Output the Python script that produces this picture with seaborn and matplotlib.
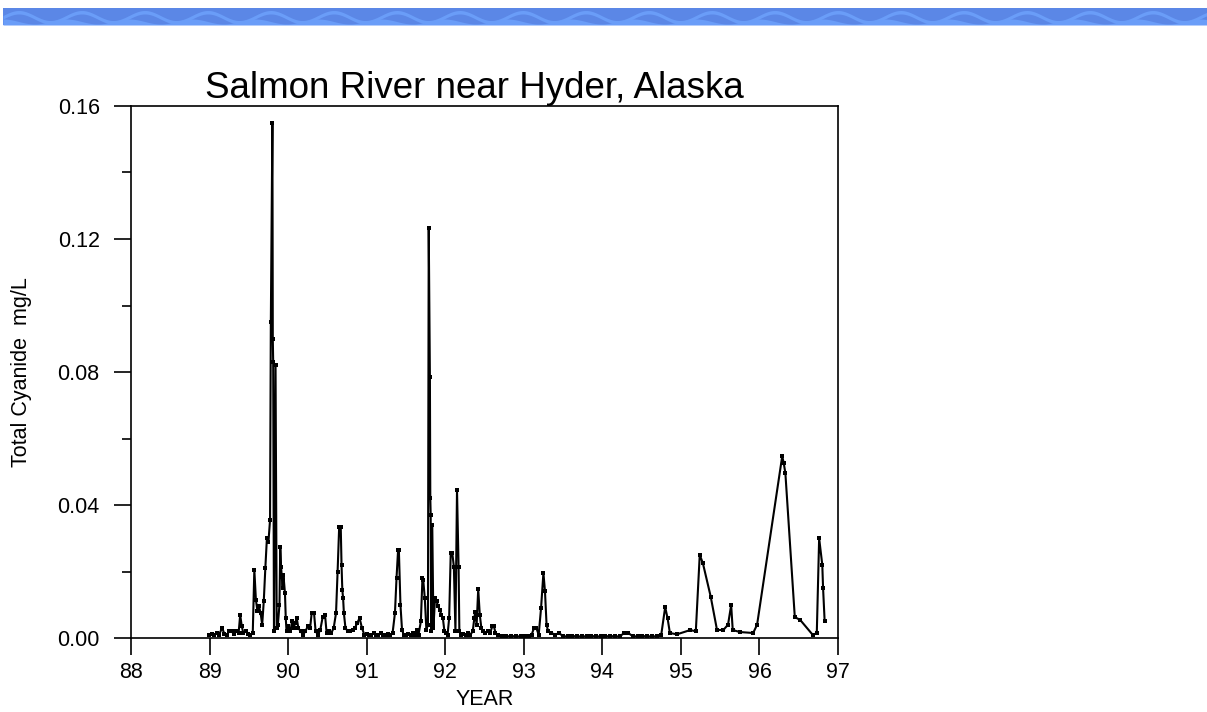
import numpy as np
import pandas as pd
import matplotlib
matplotlib.use("Agg")
import matplotlib.pyplot as plt
from matplotlib.patches import Rectangle
from matplotlib.ticker import MultipleLocator
import seaborn as sns

# Sampling dates (decimal year, 19xx) and total cyanide concentration (mg/L)
year = [
    88.99, 89.03, 89.06, 89.09, 89.12, 89.16, 89.19, 89.22, 89.25, 89.28,
    89.31, 89.34, 89.37, 89.39, 89.41, 89.43, 89.46, 89.49, 89.52, 89.55,
    89.57, 89.59, 89.61, 89.63, 89.65, 89.67, 89.69, 89.71, 89.73, 89.75,
    89.77, 89.78, 89.80, 89.805, 89.81, 89.82, 89.84, 89.855, 89.87, 89.89,
    89.90, 89.91, 89.93, 89.94, 89.96, 89.97, 89.98, 90.00, 90.03, 90.05,
    90.07, 90.09, 90.11, 90.13, 90.16, 90.19, 90.22, 90.25, 90.28, 90.30,
    90.33, 90.35, 90.38, 90.41, 90.44, 90.47, 90.49, 90.52, 90.55, 90.58,
    90.61, 90.63, 90.65, 90.67, 90.68, 90.69, 90.70, 90.71, 90.73, 90.76,
    90.79, 90.82, 90.85, 90.88, 90.91, 90.94, 90.97, 91.00, 91.03, 91.06,
    91.09, 91.12, 91.15, 91.18, 91.21, 91.24, 91.27, 91.30, 91.33, 91.36,
    91.38, 91.40, 91.41, 91.43, 91.45, 91.47, 91.50, 91.53, 91.56, 91.59,
    91.62, 91.64, 91.66, 91.69, 91.71, 91.72, 91.74, 91.76, 91.78, 91.79,
    91.805, 91.81, 91.815, 91.82, 91.835, 91.85, 91.87, 91.89, 91.91, 91.93,
    91.95, 91.97, 91.99, 92.01, 92.03, 92.05, 92.07, 92.09, 92.11, 92.13,
    92.15, 92.17, 92.18, 92.20, 92.23, 92.26, 92.29, 92.32, 92.35, 92.37,
    92.38, 92.40, 92.42, 92.44, 92.46, 92.48, 92.51, 92.54, 92.57, 92.60,
    92.62, 92.64, 92.67, 92.72, 92.78, 92.84, 92.90, 92.96, 93.02, 93.07,
    93.10, 93.13, 93.16, 93.19, 93.22, 93.25, 93.27, 93.29, 93.31, 93.35,
    93.40, 93.45, 93.50, 93.56, 93.62, 93.68, 93.74, 93.80, 93.86, 93.92,
    93.98, 94.04, 94.10, 94.16, 94.22, 94.28, 94.33, 94.39, 94.45, 94.51,
    94.57, 94.63, 94.69, 94.75, 94.80, 94.83, 94.86, 94.95, 95.12, 95.19,
    95.24, 95.28, 95.38, 95.46, 95.54, 95.60, 95.64, 95.66, 95.75, 95.92,
    95.97, 96.29, 96.31, 96.33, 96.45, 96.52, 96.68, 96.73, 96.76, 96.80,
    96.81, 96.83,
]
cyanide = [
    0.0010, 0.0012, 0.0008, 0.0015, 0.0010, 0.0030, 0.0012, 0.0010, 0.0020, 0.0020,
    0.0012, 0.0020, 0.0015, 0.0070, 0.0035, 0.0015, 0.0020, 0.0012, 0.0010, 0.0015,
    0.0205, 0.0115, 0.0080, 0.0095, 0.0075, 0.0040, 0.0110, 0.0210, 0.0300, 0.0290,
    0.0355, 0.0950, 0.1550, 0.0900, 0.0830, 0.0020, 0.0820, 0.0030, 0.0040, 0.0100,
    0.0275, 0.0215, 0.0150, 0.0190, 0.0135, 0.0060, 0.0020, 0.0035, 0.0020, 0.0050,
    0.0030, 0.0045, 0.0060, 0.0030, 0.0020, 0.0010, 0.0020, 0.0035, 0.0030, 0.0075,
    0.0075, 0.0020, 0.0010, 0.0025, 0.0063, 0.0070, 0.0015, 0.0020, 0.0015, 0.0030,
    0.0075, 0.0200, 0.0334, 0.0334, 0.0220, 0.0145, 0.0120, 0.0075, 0.0030, 0.0020,
    0.0020, 0.0025, 0.0030, 0.0045, 0.0060, 0.0030, 0.0010, 0.0012, 0.0010, 0.0010,
    0.0015, 0.0010, 0.0010, 0.0015, 0.0010, 0.0010, 0.0012, 0.0010, 0.0015, 0.0075,
    0.0180, 0.0265, 0.0265, 0.0100, 0.0025, 0.0010, 0.0010, 0.0012, 0.0010, 0.0015,
    0.0010, 0.0025, 0.0010, 0.0050, 0.0180, 0.0175, 0.0120, 0.0025, 0.0040, 0.1233,
    0.0785, 0.0420, 0.0370, 0.0020, 0.0340, 0.0030, 0.0120, 0.0110, 0.0095, 0.0085,
    0.0070, 0.0060, 0.0020, 0.0015, 0.0010, 0.0060, 0.0255, 0.0255, 0.0215, 0.0020,
    0.0445, 0.0215, 0.0020, 0.0010, 0.0012, 0.0010, 0.0015, 0.0010, 0.0020, 0.0060,
    0.0078, 0.0040, 0.0147, 0.0070, 0.0030, 0.0020, 0.0015, 0.0020, 0.0015, 0.0035,
    0.0035, 0.0015, 0.0008, 0.0005, 0.0005, 0.0006, 0.0005, 0.0005, 0.0006, 0.0005,
    0.0010, 0.0030, 0.0030, 0.0010, 0.0090, 0.0196, 0.0140, 0.0040, 0.0020, 0.0015,
    0.0010, 0.0015, 0.0005, 0.0005, 0.0006, 0.0005, 0.0005, 0.0005, 0.0006, 0.0005,
    0.0005, 0.0005, 0.0006, 0.0005, 0.0005, 0.0015, 0.0015, 0.0005, 0.0005, 0.0006,
    0.0005, 0.0005, 0.0005, 0.0010, 0.0093, 0.0060, 0.0015, 0.0011, 0.0024, 0.0020,
    0.0250, 0.0225, 0.0124, 0.0024, 0.0024, 0.0040, 0.0099, 0.0024, 0.0018, 0.0015,
    0.0040, 0.0547, 0.0525, 0.0496, 0.0063, 0.0054, 0.0009, 0.0015, 0.0300, 0.0220,
    0.0150, 0.0050,
]

x_ticks = [88, 89, 90, 91, 92, 93, 94, 95, 96, 97]
y_ticks = [0.00, 0.04, 0.08, 0.12, 0.16]
y_tick_labels = ["0.00", "0.04", "0.08", "0.12", "0.16"]

df = pd.DataFrame({"YEAR": year, "cyanide": cyanide})

sns.set_theme(style="ticks")
plt.rcParams["font.family"] = ["Liberation Sans", "DejaVu Sans"]

fig = plt.figure(figsize=(12.07, 7.12), dpi=100)
fig.patch.set_facecolor("white")

# Decorative banner across the top of the page
banner = fig.add_axes([3 / 1207, 1 - 25 / 712, 1 - 3 / 1207, 17 / 712])
banner.set_xlim(0, 1204)
banner.set_ylim(0, 17)
banner.axis("off")
banner.add_patch(Rectangle((0, 0), 1204, 17, color="#5b87e6", lw=0))
bx = np.linspace(0, 1204, 2400)
wave = 8.5 + 5.0 * np.sin(bx / 63.0 * 2 * np.pi)
banner.fill_between(bx, wave - 2.5, wave + 1.0, color="#6a9df8", lw=0)
banner.fill_between(bx, 0, 3.5 + 2.5 * np.cos(bx / 63.0 * 2 * np.pi), color="#6a9df8", lw=0)

ax = fig.add_axes([131 / 1207, 1 - 638 / 712, (838 - 131) / 1207, (638 - 106) / 712])
sns.lineplot(
    data=df, x="YEAR", y="cyanide", ax=ax, estimator=None, sort=False,
    color="black", linewidth=1.5, marker="s", markersize=3.4,
    markeredgewidth=0, markerfacecolor="black",
)

ax.set_xlim(88, 97)
ax.set_ylim(0, 0.16)
ax.set_xticks(x_ticks)
ax.set_xticklabels([str(t) for t in x_ticks])
ax.set_yticks(y_ticks)
ax.set_yticklabels(y_tick_labels)
ax.yaxis.set_minor_locator(MultipleLocator(0.02))

for side in ["top", "right", "left", "bottom"]:
    ax.spines[side].set_visible(True)
    ax.spines[side].set_color("black")
    ax.spines[side].set_linewidth(1.2)

ax.tick_params(axis="both", which="major", direction="out", length=12.5,
               width=1.2, color="black", labelsize=15.5, labelcolor="black")
ax.tick_params(axis="y", which="major", pad=10)
ax.tick_params(axis="x", which="major", pad=5)
ax.tick_params(axis="y", which="minor", direction="out", length=6.5,
               width=1.2, color="black")
ax.tick_params(top=False, right=False, which="both")

ax.set_xlabel("YEAR", fontsize=15.5, color="black", labelpad=4)
ax.set_ylabel("Total Cyanide  mg/L", fontsize=15.5, color="black", labelpad=18)
ax.set_title("Salmon River near Hyder, Alaska", fontsize=26.5, color="black",
             pad=6, x=0.485)
ax.grid(False)

fig.savefig("out.png", dpi=100, facecolor="white")
